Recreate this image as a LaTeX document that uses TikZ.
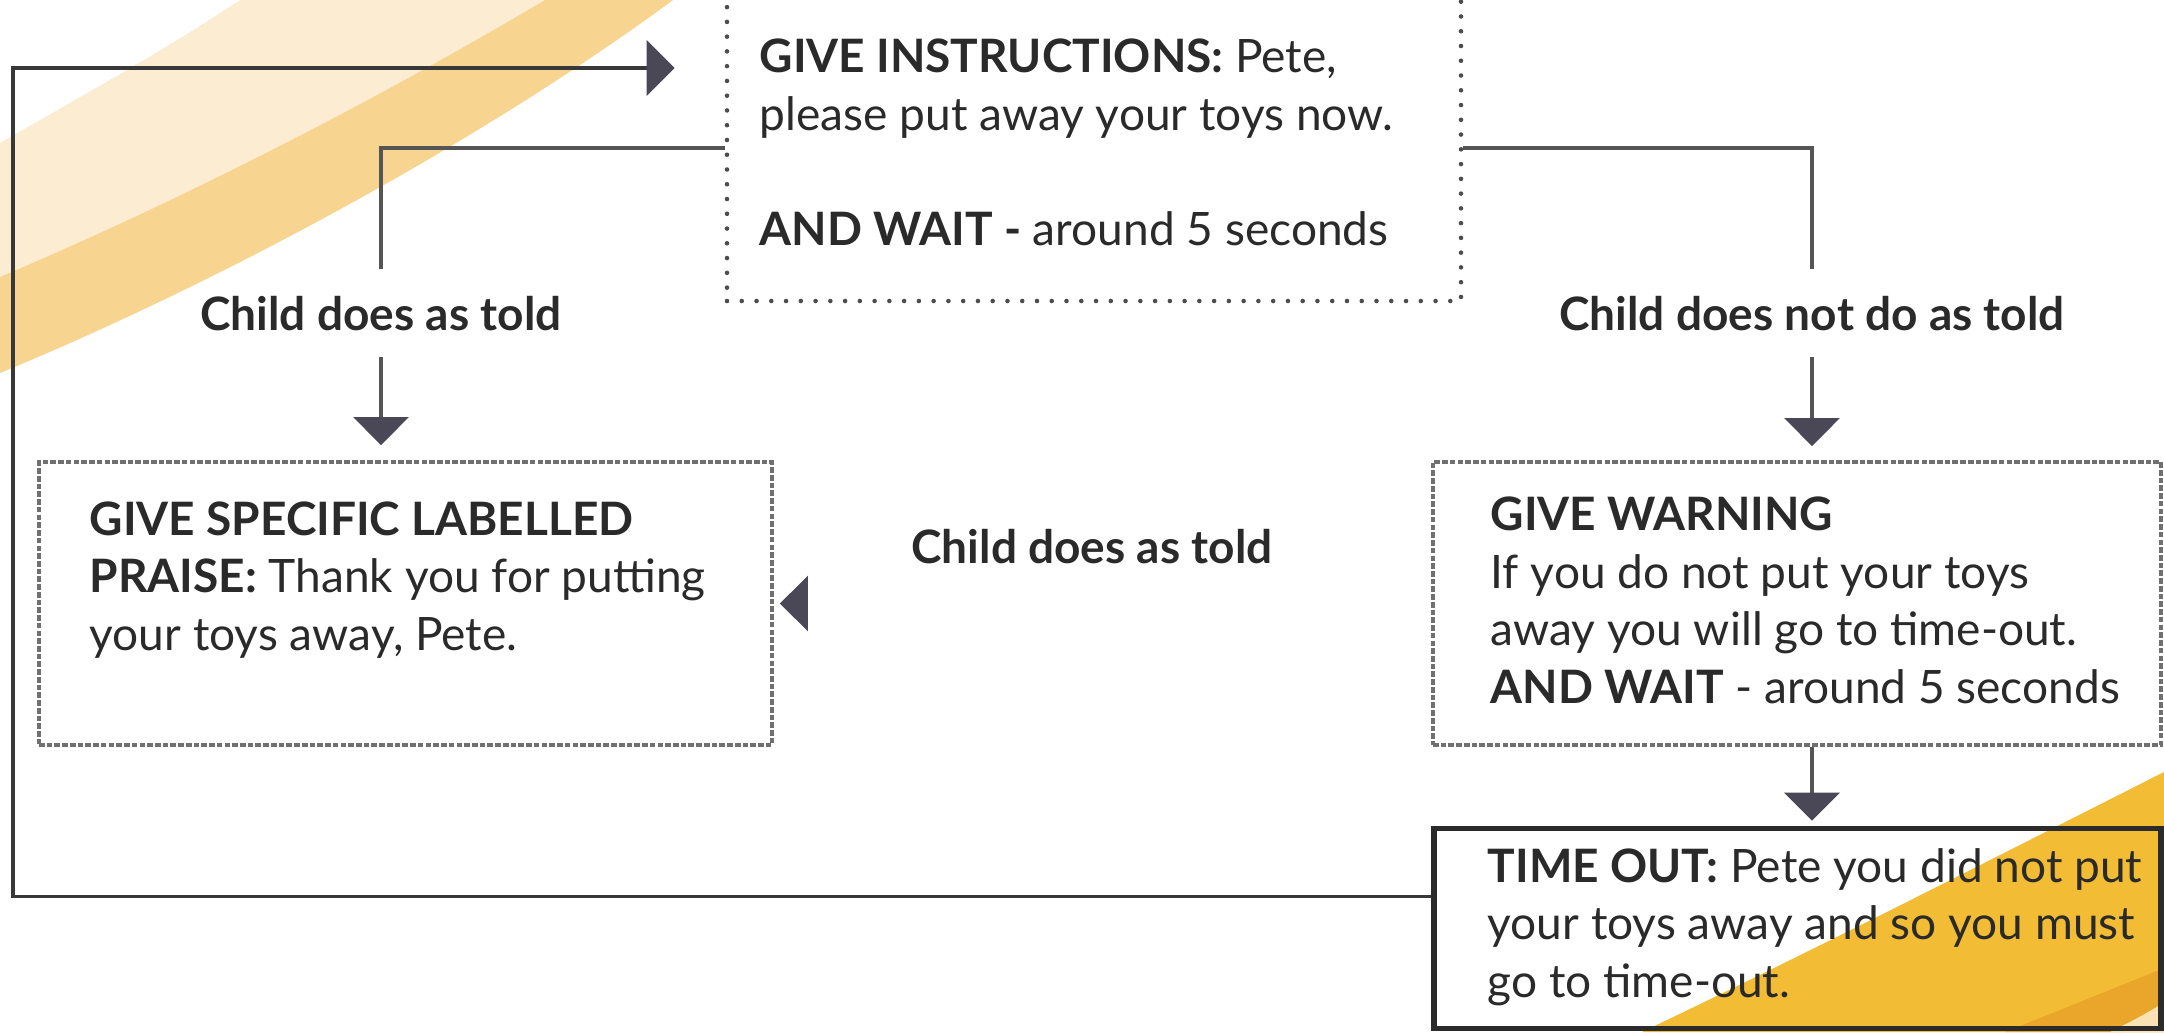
\documentclass[tikz,border=0pt]{standalone}
\usepackage{fontspec}
\setmainfont{Lato}
\usetikzlibrary{arrows.meta}
\definecolor{inkgray}{HTML}{2A2A2A}
\definecolor{linegray}{HTML}{555555}
\definecolor{loopgray}{HTML}{383838}
\definecolor{tipgray}{HTML}{4A4857}
\definecolor{dotgray}{HTML}{4D4D4D}
\definecolor{dashgray}{HTML}{707070}
\definecolor{boxblack}{HTML}{2B2B2B}
\definecolor{creamlight}{HTML}{FCEDD2}
\definecolor{creammid}{HTML}{F7D591}
\definecolor{gold}{HTML}{F2BD34}
\definecolor{deepgold}{HTML}{EAA62A}
\definecolor{creamcorner}{HTML}{FBE2B4}
\begin{document}
\begin{tikzpicture}[
    txt/.style={font=\fontsize{13.1pt}{16.36pt}\selectfont, text=inkgray, inner sep=0pt, align=left, anchor=base west},
    lbl/.style={font=\fontsize{13.1pt}{16.36pt}\selectfont\bfseries, text=inkgray, inner xsep=0pt, inner ysep=0.26cm, anchor=base},
    dotbox/.style={draw=dotgray, line width=1.3pt, line cap=round, dash pattern=on 0pt off 4.2pt, inner sep=0pt},
    dashbox/.style={draw=dashgray, line width=1.1pt, dash pattern=on 1.6pt off 0.6pt, inner sep=0pt, minimum height=2.83cm},
    boldbox/.style={draw=boxblack, line width=1.6pt, inner sep=0pt},
    link/.style={draw=linegray, line width=1.05pt},
    loopline/.style={draw=loopgray, line width=1.05pt},
    flowtip/.style={-{Triangle[width=0.55cm, length=0.28cm, color=tipgray]}},
]
    \useasboundingbox (0,0) rectangle (21.64,10.32);
    \fill[white] (0,0) rectangle (21.64,10.32);
    \fill[creamlight] (0,8.89) .. controls (0.8,9.35) and (1.7,9.85) .. (2.40,10.32) -- (6.73,10.32)
        .. controls (4.8,8.9) and (2.2,7.5) .. (0,6.59) -- cycle;
    \fill[creammid] (0,7.55) .. controls (2.0,8.4) and (3.9,9.4) .. (5.45,10.32) -- (6.73,10.32)
        .. controls (4.8,8.9) and (2.2,7.5) .. (0,6.59) -- cycle;
    \fill[gold] (16.42,0) .. controls (18.2,0.85) and (19.9,1.72) .. (21.64,2.60) -- (21.64,0) -- cycle;
    \fill[deepgold] (20.05,0) .. controls (20.6,0.22) and (21.1,0.42) .. (21.64,0.64) -- (21.64,0) -- cycle;
    \fill[creamcorner] (21.10,0) .. controls (21.3,0.1) and (21.5,0.2) .. (21.64,0.30) -- (21.64,0) -- cycle;

    \node[dotbox, minimum width=7.34cm, minimum height=3.06cm] (instr) at (10.94,8.84) {};
    \node[dashbox, minimum width=7.33cm] (praise) at (4.055,4.285) {};
    \node[dashbox, minimum width=7.28cm] (warning) at (17.97,4.285) {};
    \node[boldbox, minimum width=7.27cm, minimum height=2.00cm] (timeout) at (17.975,1.035) {};

    \node[txt] (instrtxt) at (7.59,7.87) {\textbf{GIVE INSTRUCTIONS:} Pete,\\ please put away your toys now.\\[16.36pt] \textbf{AND WAIT -} around 5 seconds};
    \node[txt] (praisetxt) at (0.89,3.82) {\textbf{GIVE SPECIFIC LABELLED}\\ \textbf{PRAISE:} Thank you for putting\\ your toys away, Pete.};
    \node[txt] (warningtxt) at (14.90,3.29) {\textbf{GIVE WARNING}\\ If you do not put your toys\\ away you will go to time-out.\\ \textbf{AND WAIT} - around 5 seconds};
    \node[txt] (timeouttxt) at (14.87,0.35) {\textbf{TIME OUT:} Pete you did not put\\ your toys away and so you must\\ go to time-out.};

    \node[lbl] (yes) at (3.81,7.02) {Child does as told};
    \node[lbl] (no) at (18.12,7.02) {Child does not do as told};
    \node[lbl] (yeslater) at (10.92,4.69) {Child does as told};

    \coordinate (looptl) at (0.13,9.64);

    \draw[link] (instr.west) -| (yes.north);
    \draw[link, flowtip, shorten >=0.15cm] (yes.south) -- (praise.north -| yes.south);
    \draw[link] (instr.east) -| (no.north);
    \draw[link, flowtip, shorten >=0.14cm] (no.south) -- (warning.north -| no.south);
    \draw[link, flowtip, shorten >=0.05cm] (warning.south -| no.south) -- (timeout.north -| no.south);
    \draw[link, flowtip, shorten >=0.06cm] ([xshift=0.34cm]praise.east) -- (praise.east);
    \draw[loopline, flowtip, shorten >=0.5cm] ([yshift=0.32cm]timeout.west) -| (looptl) -- (instr.west |- looptl);
\end{tikzpicture}
\end{document}
